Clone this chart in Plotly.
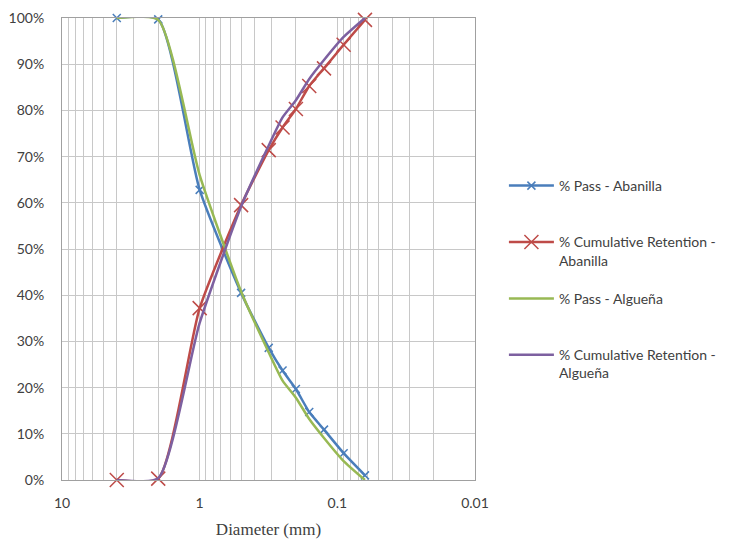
import plotly.graph_objects as go

# Sieve opening sizes (mm)
diameter = [4, 2, 1, 0.5, 0.315, 0.25, 0.2, 0.16, 0.125, 0.09, 0.063]

# Grading results (%)
pass_abanilla = [100, 99.7, 62.8, 40.5, 28.6, 23.7, 19.7, 14.7, 10.9, 5.8, 1.0]
retention_abanilla = [0, 0.3, 37.2, 59.5, 71.4, 76.3, 80.3, 85.3, 89.1, 94.2, 99.6]
pass_alguena = [100, 99.6, 66.0, 40.8, 27.6, 21.5, 17.8, 13.2, 9.1, 4.1, 0.0]
retention_alguena = [0, 0.4, 34.0, 59.2, 72.4, 78.5, 82.2, 86.8, 90.9, 95.9, 100.0]

y_ticks = list(range(0, 101, 10))
y_tick_text = [f"{v}%" for v in y_ticks]
x_tick_vals = [10, 1, 0.1, 0.01]
x_tick_text = ["10", "1", "0.1", "0.01"]

BLUE = "#4A7EBB"
RED = "#BE4B48"
GREEN = "#98B954"
PURPLE = "#7D60A0"
GRID = "#C8C8C8"
TXT = "#404040"
SMOOTH = 0.55

fig = go.Figure()

fig.add_trace(go.Scatter(
    x=diameter, y=pass_abanilla, name="% Pass - Abanilla<br> ",
    mode="lines+markers", line=dict(color=BLUE, width=2.5, shape="spline", smoothing=SMOOTH),
    marker=dict(symbol="x-thin", size=8, line=dict(color=BLUE, width=1.5)),
    cliponaxis=False, legendgroup="a",
))
fig.add_trace(go.Scatter(
    x=diameter, y=retention_abanilla, name="% Cumulative Retention -<br>Abanilla",
    mode="lines+markers", line=dict(color=RED, width=2.5, shape="spline", smoothing=SMOOTH),
    marker=dict(symbol="x-thin", size=14, line=dict(color=RED, width=1.5)),
    cliponaxis=False, legendgroup="b",
))
fig.add_trace(go.Scatter(
    x=diameter, y=pass_alguena, name="% Pass - Algueña<br> ",
    mode="lines", line=dict(color=GREEN, width=2.5, shape="spline", smoothing=SMOOTH),
    legendgroup="c",
))
fig.add_trace(go.Scatter(
    x=diameter, y=retention_alguena, name="% Cumulative Retention -<br>Algueña",
    mode="lines", line=dict(color=PURPLE, width=2.5, shape="spline", smoothing=SMOOTH),
    legendgroup="d",
))

fig.update_layout(
    width=735, height=539,
    margin=dict(l=62, r=260, t=18, b=59),
    paper_bgcolor="white", plot_bgcolor="white",
    font=dict(family="Lato, Open Sans, sans-serif", size=14, color=TXT),
    legend=dict(
        x=1.07, y=0.671, xanchor="left", yanchor="top",
        font=dict(size=14, color=TXT), valign="top",
        tracegroupgap=17, itemwidth=45,
        bgcolor="rgba(0,0,0,0)",
    ),
    xaxis=dict(
        type="log", range=[1, -2], autorange=False, automargin=False,
        tickvals=x_tick_vals, ticktext=x_tick_text,
        showgrid=True, gridcolor=GRID, gridwidth=1,
        minor=dict(dtick="D1", showgrid=True, gridcolor=GRID, gridwidth=1, ticks=""),
        showline=True, linecolor="#A0A0A0", mirror=True,
        ticks="", ticklabelstandoff=10,
        title=dict(text="Diameter (mm)", font=dict(family="Liberation Serif, DejaVu Serif, serif", size=17, color=TXT), standoff=14),
        zeroline=False,
    ),
    yaxis=dict(
        range=[0, 100], autorange=False, automargin=False,
        tickvals=y_ticks, ticktext=y_tick_text,
        showgrid=True, gridcolor=GRID, gridwidth=1,
        showline=True, linecolor="#A0A0A0", mirror=True,
        ticks="", zeroline=False, ticklabelstandoff=14,
    ),
)

fig.write_html("out.html")
